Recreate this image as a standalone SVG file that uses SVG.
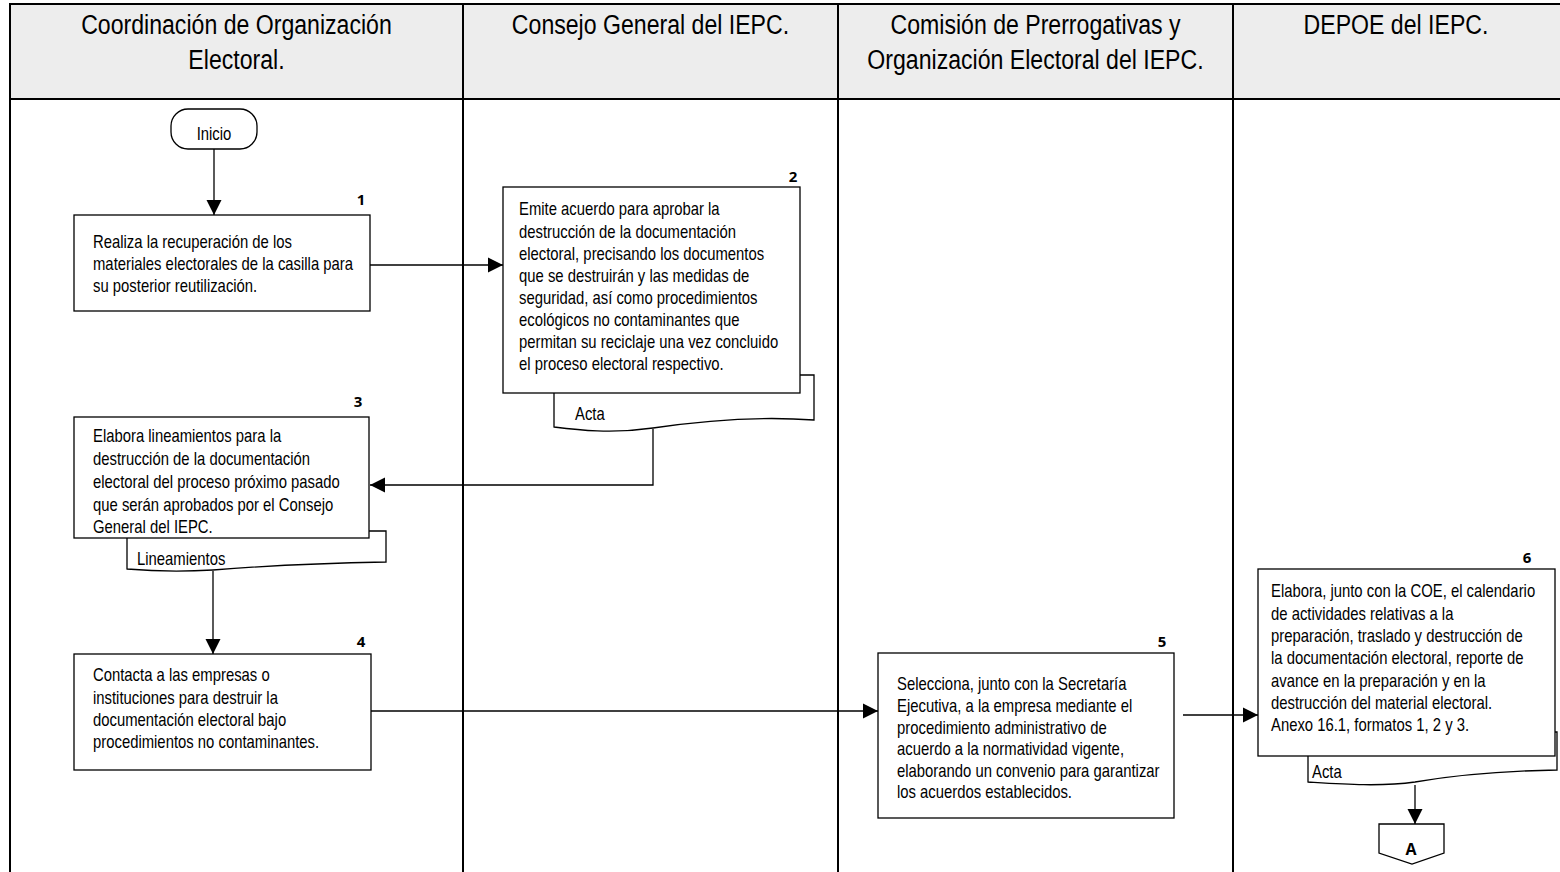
<svg xmlns="http://www.w3.org/2000/svg" width="1560" height="872" viewBox="0 0 1560 872">
<style>
.lane{fill:none;stroke:#000;stroke-width:2}
.hdr{fill:#EDEDED;stroke:none}
.ht{font-family:"Liberation Sans",Arial,sans-serif;font-size:28px;fill:#000;text-anchor:middle;transform-box:fill-box;transform-origin:50% 50%;transform:scaleX(0.825)}
.box{fill:#fff;stroke:#000;stroke-width:1.3}
.doc{fill:#fff;stroke:#000;stroke-width:1.3}
.t{font-family:"Liberation Sans",Arial,sans-serif;font-size:18px;fill:#000;transform-box:fill-box;transform-origin:0 50%;transform:scaleX(0.825)}
.tc{font-family:"Liberation Sans",Arial,sans-serif;font-size:18px;fill:#000;text-anchor:middle;transform-box:fill-box;transform-origin:50% 50%;transform:scaleX(0.825)}
.n{font-family:"Open Sans","Liberation Sans",sans-serif;font-size:15px;font-weight:bold;fill:#000;text-anchor:middle}
.c{fill:none;stroke:#000;stroke-width:1.3}
</style>
<defs>
<marker id="ah" markerUnits="userSpaceOnUse" markerWidth="16" markerHeight="16" viewBox="0 0 16 16" refX="15" refY="8" orient="auto">
<path d="M0,0.5 L15,8 L0,15.5 Z" fill="#000"/>
</marker>
</defs>
<rect width="1560" height="872" fill="#fff"/>
<g id="lanes">
<rect class="hdr" x="10" y="4" width="1550" height="95"/>
<path class="lane" d="M10,872 V4 H1560 M10,99 H1560 M463,4 V872 M838,4 V872 M1233,4 V872"/>
<text class="ht" x="236.5" y="34">Coordinación de Organización</text>
<text class="ht" x="236.5" y="69">Electoral.</text>
<text class="ht" x="650.5" y="34">Consejo General del IEPC.</text>
<text class="ht" x="1035.5" y="34">Comisión de Prerrogativas y</text>
<text class="ht" x="1035.5" y="69">Organización Electoral del IEPC.</text>
<text class="ht" x="1396" y="34">DEPOE del IEPC.</text>
</g>
<g id="connectors">
<path class="c" d="M214,149 V215" marker-end="url(#ah)"/>
<path class="c" d="M370,265 H503" marker-end="url(#ah)"/>
<path class="c" d="M653,429 V485 H370" marker-end="url(#ah)"/>
<path class="c" d="M213,571 V654" marker-end="url(#ah)"/>
<path class="c" d="M371,711 H878" marker-end="url(#ah)"/>
<path class="c" d="M1183,715 H1258" marker-end="url(#ah)"/>
<path class="c" d="M1415,785 V824" marker-end="url(#ah)"/>
</g>
<g id="inicio">
<rect class="box" x="171" y="109" width="86" height="40" rx="17" ry="17"/>
<text class="tc" x="214" y="140">Inicio</text>
</g>
<g id="n1">
<rect class="box" x="74" y="215" width="296" height="96"/>
<text class="n" x="361" y="205">1</text>
<text class="t" x="93" y="248.5">Realiza la recuperación de los</text>
<text class="t" x="93" y="270.5">materiales electorales de la casilla para</text>
<text class="t" x="93" y="292.5">su posterior reutilización.</text>
</g>
<g id="n2">
<path class="doc" d="M554,375 H814 V420 C760,416 700,421 653,428 C612,434 578,430 554,427 Z"/>
<text class="t" x="575" y="420">Acta</text>
<rect class="box" x="503" y="187" width="297" height="206"/>
<text class="n" x="793" y="182">2</text>
<text class="t" x="519" y="215.5">Emite acuerdo para aprobar la</text>
<text class="t" x="519" y="237.6">destrucción de la documentación</text>
<text class="t" x="519" y="259.8">electoral, precisando los documentos</text>
<text class="t" x="519" y="281.9">que se destruirán y las medidas de</text>
<text class="t" x="519" y="304.1">seguridad, así como procedimientos</text>
<text class="t" x="519" y="326.2">ecológicos no contaminantes que</text>
<text class="t" x="519" y="348.4">permitan su reciclaje una vez concluido</text>
<text class="t" x="519" y="370.5">el proceso electoral respectivo.</text>
</g>
<g id="n3">
<path class="doc" d="M127,531 H386 V562 C330,563 262,566 213,570 C180,572 150,571 127,569 Z"/>
<text class="t" x="137" y="565">Lineamientos</text>
<rect class="box" x="74" y="417" width="295" height="121"/>
<text class="n" x="358" y="407">3</text>
<text class="t" x="93" y="442.5">Elabora lineamientos para la</text>
<text class="t" x="93" y="465.2">destrucción de la documentación</text>
<text class="t" x="93" y="488">electoral del proceso próximo pasado</text>
<text class="t" x="93" y="510.7">que serán aprobados por el Consejo</text>
<text class="t" x="93" y="533.5">General del IEPC.</text>
</g>
<g id="n4">
<rect class="box" x="74" y="654" width="297" height="116"/>
<text class="n" x="361" y="647">4</text>
<text class="t" x="93" y="681.5">Contacta a las empresas o</text>
<text class="t" x="93" y="704">instituciones para destruir la</text>
<text class="t" x="93" y="726.5">documentación electoral bajo</text>
<text class="t" x="93" y="748.5">procedimientos no contaminantes.</text>
</g>
<g id="n5">
<rect class="box" x="878" y="653" width="296" height="165"/>
<text class="n" x="1162" y="647">5</text>
<text class="t" x="897" y="690.5">Selecciona, junto con la Secretaría</text>
<text class="t" x="897" y="712.1">Ejecutiva, a la empresa mediante el</text>
<text class="t" x="897" y="733.7">procedimiento administrativo de</text>
<text class="t" x="897" y="755.3">acuerdo a la normatividad vigente,</text>
<text class="t" x="897" y="776.9">elaborando un convenio para garantizar</text>
<text class="t" x="897" y="798.5">los acuerdos establecidos.</text>
</g>
<g id="n6">
<path class="doc" d="M1308,732 H1557 V770 C1500,771 1450,776 1415,782 C1380,787 1340,784 1308,782 Z"/>
<text class="t" x="1312" y="778">Acta</text>
<rect class="box" x="1258" y="569" width="297" height="187"/>
<text class="n" x="1527" y="563">6</text>
<text class="t" x="1271" y="597.5">Elabora, junto con la COE, el calendario</text>
<text class="t" x="1271" y="619.8">de actividades relativas a la</text>
<text class="t" x="1271" y="642.2">preparación, traslado y destrucción de</text>
<text class="t" x="1271" y="664.5">la documentación electoral, reporte de</text>
<text class="t" x="1271" y="686.8">avance en la preparación y en la</text>
<text class="t" x="1271" y="709.2">destrucción del material electoral.</text>
<text class="t" x="1271" y="731.5">Anexo 16.1, formatos 1, 2 y 3.</text>
</g>
<g id="offpage-A">
<polygon class="box" points="1379,824 1444,824 1444,853 1412,864 1379,853"/>
<text class="n" x="1411" y="855" style="font-size:16px">A</text>
</g>
</svg>
